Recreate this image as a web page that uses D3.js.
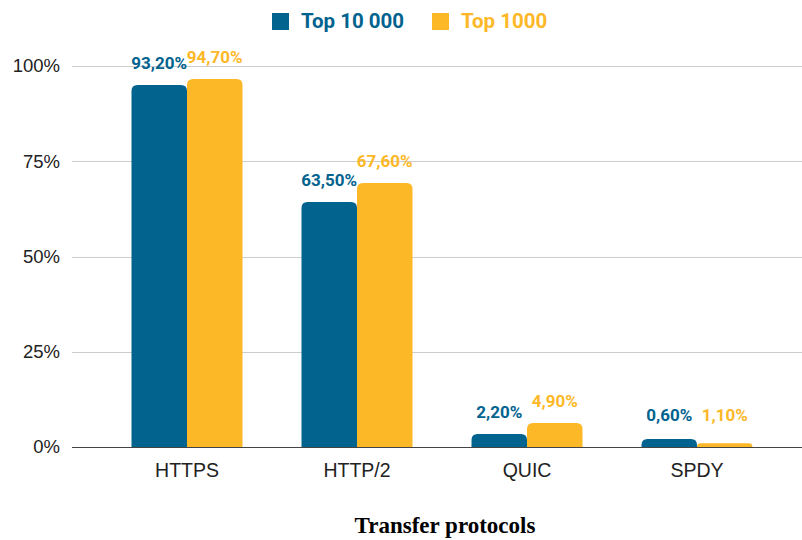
<!DOCTYPE html>
<html>
<head>
<meta charset="utf-8">
<script src="https://cdn.jsdelivr.net/npm/d3@7"></script>
<style>
  html, body { margin: 0; padding: 0; background: #fff; }
  svg { display: block; }
</style>
</head>
<body>
<svg id="chart" width="802" height="540"></svg>
<script>
// ---- data ----
const categories = ["HTTPS", "HTTP/2", "QUIC", "SPDY"];
const seriesNames = ["Top 10 000", "Top 1000"];
// bar heights (percent)
const top10000 = [95.0, 64.3, 3.4, 2.1];
const top1000 = [96.6, 69.3, 6.3, 1.0];
// data labels as printed on the chart
const top10000Labels = ["93,20%", "63,50%", "2,20%", "0,60%"];
const top1000Labels = ["94,70%", "67,60%", "4,90%", "1,10%"];
const yTicks = [0, 25, 50, 75, 100];
const xTitle = "Transfer protocols";

const colors = ["#02638f", "#fdb827"];

const svg = d3.select("#chart");
const width = 802, height = 540;

const y = d3.scaleLinear().domain([0, 100]).range([447, 66]);
const x = d3.scaleBand().domain(categories).range([102, 782]).paddingInner(0.347).paddingOuter(0.1735);
const xs = d3.scaleBand().domain(seriesNames).range([0, x.bandwidth()]);

// y axis labels
const yAxis = d3.axisLeft(y).tickValues(yTicks).tickSize(0).tickPadding(12).tickFormat(d => d + "%");
const gAxis = svg.append("g").attr("transform", "translate(72,0)").call(yAxis);
gAxis.select(".domain").remove();
gAxis.selectAll("text")
  .attr("font-family", "Liberation Sans, Arial, sans-serif")
  .attr("font-size", 18.5)
  .attr("fill", "#222");

// gridlines
svg.append("g").selectAll("line").data(yTicks.filter(d => d !== 0)).join("line")
  .attr("x1", 72).attr("x2", width)
  .attr("y1", d => Math.round(y(d)) + 0.5).attr("y2", d => Math.round(y(d)) + 0.5)
  .attr("stroke", "#cccccc").attr("stroke-width", 1);

// bars
const series = [
  { name: seriesNames[0], values: top10000, labels: top10000Labels, color: colors[0] },
  { name: seriesNames[1], values: top1000, labels: top1000Labels, color: colors[1] }
];

function roundedTop(x0, y0, w, h, r) {
  r = Math.min(r, h, w / 2);
  return `M${x0},${y0 + h} L${x0},${y0 + r} Q${x0},${y0} ${x0 + r},${y0} L${x0 + w - r},${y0} Q${x0 + w},${y0} ${x0 + w},${y0 + r} L${x0 + w},${y0 + h} Z`;
}

const barsG = svg.append("g");
series.forEach(s => {
  const g = barsG.append("g");
  g.selectAll("path").data(categories).join("path")
    .attr("d", (c, i) => {
      const bx = x(c) + xs(s.name);
      const by = y(s.values[i]);
      return roundedTop(bx, by, xs.bandwidth(), y(0) - by, 6);
    })
    .attr("fill", s.color);
  g.selectAll("text").data(categories).join("text")
    .attr("x", c => x(c) + xs(s.name) + xs.bandwidth() / 2)
    .attr("y", (c, i) => Math.min(y(s.values[i]) - 16, 421))
    .attr("text-anchor", "middle")
    .attr("font-family", "Roboto, sans-serif")
    .attr("font-weight", "bold")
    .attr("font-size", 17)
    .attr("fill", s.color)
    .text((c, i) => s.labels[i]);
});

// baseline
svg.append("line")
  .attr("x1", 72).attr("x2", width)
  .attr("y1", Math.round(y(0)) + 0.5).attr("y2", Math.round(y(0)) + 0.5)
  .attr("stroke", "#444").attr("stroke-width", 1.2);

// x axis labels
const xAxis = d3.axisBottom(x).tickSize(0).tickPadding(16);
const gx = svg.append("g").attr("transform", `translate(0,${y(0)})`).call(xAxis);
gx.select(".domain").remove();
gx.selectAll("text")
  .attr("font-family", "Liberation Sans, Arial, sans-serif")
  .attr("font-size", 19.5)
  .attr("fill", "#222");

// x title
svg.append("text")
  .attr("x", 445).attr("y", 533)
  .attr("text-anchor", "middle")
  .attr("font-family", "Liberation Serif, Times New Roman, serif")
  .attr("font-weight", "bold")
  .attr("font-size", 23)
  .attr("fill", "#000")
  .text(xTitle);

// legend
const legend = svg.append("g");
const legendX = [272, 432];
series.forEach((s, i) => {
  legend.append("rect")
    .attr("x", legendX[i]).attr("y", 13).attr("width", 17).attr("height", 17)
    .attr("fill", s.color);
  legend.append("text")
    .attr("x", legendX[i] + 29).attr("y", 28)
    .attr("font-family", "Roboto, sans-serif")
    .attr("font-weight", "bold")
    .attr("font-size", 20.5)
    .attr("fill", s.color)
    .text(s.name);
});
</script>
</body>
</html>
